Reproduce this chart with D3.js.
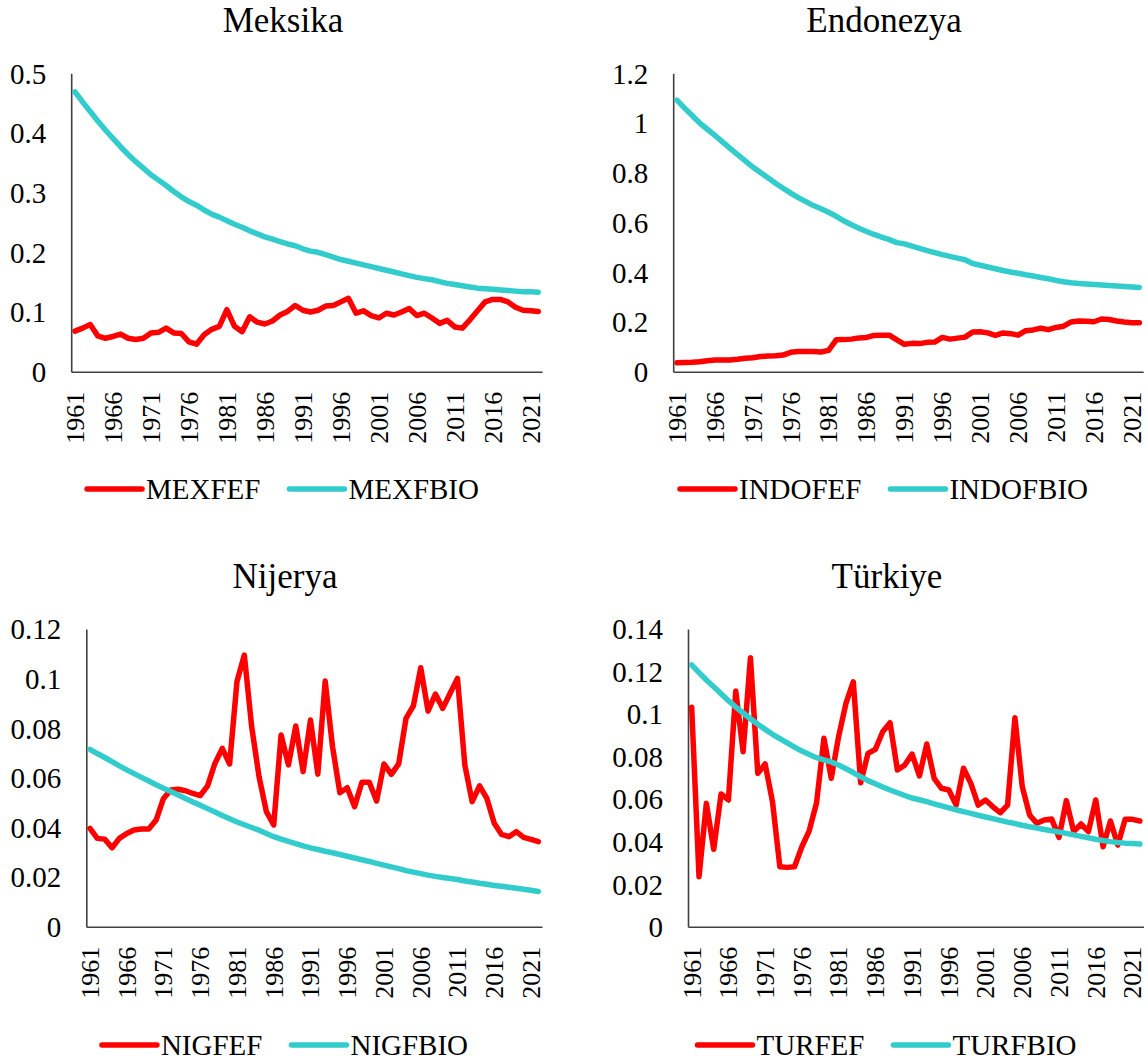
<!DOCTYPE html>
<html>
<head>
<meta charset="utf-8">
<script src="https://cdn.jsdelivr.net/npm/d3@7"></script>
<style>
  html, body { margin: 0; padding: 0; background: #fff; }
  svg text { font-family: "Liberation Serif", "Times New Roman", serif; fill: #000; }
</style>
</head>
<body>
<svg id="chart" width="1148" height="1064"></svg>
<script>
const years = [1961,1962,1963,1964,1965,1966,1967,1968,1969,1970,1971,1972,1973,1974,1975,1976,1977,1978,1979,1980,
  1981,1982,1983,1984,1985,1986,1987,1988,1989,1990,1991,1992,1993,1994,1995,1996,1997,1998,1999,2000,
  2001,2002,2003,2004,2005,2006,2007,2008,2009,2010,2011,2012,2013,2014,2015,2016,2017,2018,2019,2020,2021,2022];
const yearTicks = [1961,1966,1971,1976,1981,1986,1991,1996,2001,2006,2011,2016,2021];

const MEXFEF = [0.068,0.073,0.079,0.060,0.056,0.059,0.063,0.056,0.054,0.056,0.065,0.066,0.073,0.065,0.064,0.050,0.046,0.062,0.071,0.076,
  0.104,0.076,0.067,0.092,0.083,0.080,0.085,0.095,0.101,0.111,0.103,0.100,0.103,0.110,0.111,0.117,0.123,0.098,0.102,0.094,
  0.090,0.098,0.095,0.100,0.106,0.094,0.098,0.090,0.081,0.086,0.075,0.073,0.087,0.102,0.117,0.121,0.121,0.117,0.108,0.103,0.102,0.101];
const MEXFBIO = [0.469,0.452,0.436,0.420,0.405,0.391,0.377,0.364,0.352,0.341,0.330,0.321,0.312,0.302,0.293,0.285,0.279,0.271,0.264,0.259,
  0.253,0.247,0.242,0.236,0.231,0.226,0.222,0.218,0.214,0.211,0.206,0.202,0.200,0.196,0.192,0.188,0.185,0.182,0.179,0.176,
  0.173,0.170,0.167,0.164,0.161,0.158,0.156,0.154,0.151,0.148,0.146,0.144,0.142,0.140,0.139,0.138,0.137,0.136,0.135,0.134,0.134,0.133];

const INDOFEF = [0.036,0.037,0.038,0.040,0.044,0.047,0.047,0.047,0.050,0.054,0.056,0.061,0.063,0.064,0.067,0.078,0.081,0.081,0.081,0.079,
  0.086,0.128,0.129,0.131,0.136,0.138,0.146,0.147,0.147,0.128,0.110,0.114,0.113,0.118,0.119,0.138,0.131,0.135,0.139,0.160,
  0.161,0.156,0.146,0.156,0.153,0.147,0.165,0.168,0.175,0.169,0.178,0.183,0.200,0.204,0.203,0.201,0.212,0.210,0.204,0.200,0.197,0.197];
const INDOFBIO = [1.092,1.060,1.030,1.000,0.975,0.950,0.924,0.898,0.873,0.848,0.823,0.801,0.780,0.758,0.738,0.718,0.700,0.684,0.668,0.655,
  0.641,0.625,0.607,0.591,0.577,0.564,0.552,0.541,0.531,0.519,0.514,0.505,0.496,0.487,0.479,0.471,0.464,0.457,0.450,0.435,
  0.428,0.421,0.414,0.407,0.401,0.396,0.390,0.385,0.379,0.374,0.367,0.362,0.358,0.355,0.353,0.351,0.349,0.347,0.345,0.343,0.341,0.339];

const NIGFEF = [0.0396,0.0356,0.0353,0.0318,0.0356,0.0376,0.0390,0.0394,0.0394,0.0430,0.0517,0.0551,0.0554,0.0548,0.0537,0.0528,0.0568,0.0658,0.0719,0.0656,
  0.0988,0.1095,0.0806,0.0605,0.0464,0.0410,0.0773,0.0652,0.0809,0.0625,0.0833,0.0615,0.0990,0.0726,0.0540,0.0560,0.0484,0.0582,0.0582,0.0507,
  0.0656,0.0614,0.0656,0.0840,0.0890,0.1044,0.0869,0.0938,0.0880,0.0941,0.1001,0.0652,0.0504,0.0568,0.0517,0.0417,0.0372,0.0363,0.0383,0.0360,0.0352,0.0343];
const NIGFBIO = [0.0715,0.0698,0.0682,0.0665,0.0648,0.0632,0.0617,0.0602,0.0587,0.0572,0.0558,0.0545,0.0531,0.0517,0.0503,0.0490,0.0476,0.0462,0.0448,0.0435,
  0.0422,0.0411,0.0400,0.0389,0.0376,0.0363,0.0353,0.0344,0.0335,0.0326,0.0318,0.0311,0.0304,0.0298,0.0291,0.0284,0.0277,0.0270,0.0263,0.0255,
  0.0248,0.0241,0.0234,0.0226,0.0220,0.0214,0.0208,0.0203,0.0198,0.0194,0.0190,0.0184,0.0180,0.0175,0.0171,0.0166,0.0163,0.0159,0.0155,0.0151,0.0147,0.0142];

const TURFEF = [0.1032,0.0235,0.0580,0.0364,0.0624,0.0596,0.1108,0.0823,0.1265,0.0721,0.0765,0.0588,0.0282,0.0279,0.0282,0.0376,0.0451,0.0583,0.0886,0.0698,
  0.0894,0.1050,0.1152,0.0677,0.0815,0.0834,0.0917,0.0959,0.0737,0.0760,0.0812,0.0709,0.0859,0.0698,0.0651,0.0643,0.0572,0.0745,0.0674,0.0572,
  0.0596,0.0564,0.0536,0.0572,0.0983,0.0658,0.0525,0.0486,0.0502,0.0506,0.0420,0.0593,0.0447,0.0483,0.0447,0.0596,0.0376,0.0497,0.0384,0.0505,0.0505,0.0497];
const TURFBIO = [0.1231,0.1195,0.1160,0.1128,0.1095,0.1063,0.1033,0.1005,0.0978,0.0952,0.0928,0.0905,0.0885,0.0865,0.0845,0.0826,0.0810,0.0795,0.0784,0.0775,
  0.0760,0.0743,0.0725,0.0705,0.0687,0.0672,0.0657,0.0643,0.0630,0.0617,0.0605,0.0597,0.0588,0.0578,0.0568,0.0559,0.0550,0.0541,0.0533,0.0524,
  0.0516,0.0508,0.0500,0.0492,0.0485,0.0477,0.0470,0.0464,0.0457,0.0451,0.0445,0.0439,0.0432,0.0425,0.0418,0.0411,0.0405,0.0400,0.0396,0.0393,0.0391,0.0389];

const ticksMex = [0, 0.1, 0.2, 0.3, 0.4, 0.5];
const ticksIndo = [0, 0.2, 0.4, 0.6, 0.8, 1, 1.2];
const ticksNig = [0, 0.02, 0.04, 0.06, 0.08, 0.1, 0.12];
const ticksTur = [0, 0.02, 0.04, 0.06, 0.08, 0.1, 0.12, 0.14];

const titles = ["Meksika", "Endonezya", "Nijerya", "Türkiye"];
const seriesNames = [["MEXFEF","MEXFBIO"],["INDOFEF","INDOFBIO"],["NIGFEF","NIGFBIO"],["TURFEF","TURFBIO"]];

const RED = "#FF0000", TEAL = "#33CCCC", AXIS = "#404040";
const SERIF = '"Liberation Serif", "Times New Roman", serif';

const panels = [
  { title: titles[0], names: seriesNames[0], a: MEXFEF, b: MEXFBIO, ticks: ticksMex, ymax: 0.5,
    x0: 71.2, x1: 542.1, top: 73.3, bottom: 371.7, cx: 283, titleY: 32, legendY: 489 },
  { title: titles[1], names: seriesNames[1], a: INDOFEF, b: INDOFBIO, ticks: ticksIndo, ymax: 1.2,
    x0: 673.2, x1: 1143.2, top: 73.3, bottom: 371.7, cx: 884, titleY: 32, legendY: 489 },
  { title: titles[2], names: seriesNames[2], a: NIGFEF, b: NIGFBIO, ticks: ticksNig, ymax: 0.12,
    x0: 86.3, x1: 542, top: 629, bottom: 926.7, cx: 285, titleY: 588, legendY: 1045 },
  { title: titles[3], names: seriesNames[3], a: TURFEF, b: TURFBIO, ticks: ticksTur, ymax: 0.14,
    x0: 688, x1: 1143.5, top: 629, bottom: 926.7, cx: 887, titleY: 588, legendY: 1045 }
];

const svg = d3.select("#chart");

panels.forEach(p => {
  const g = svg.append("g").style("font-family", SERIF);
  const x = d3.scaleBand().domain(years).range([p.x0, p.x1]).padding(0);
  const y = d3.scaleLinear().domain([0, p.ymax]).range([p.bottom, p.top]);
  const xc = d => x(d) + x.bandwidth() / 2;

  // title
  g.append("text").attr("x", p.cx).attr("y", p.titleY).attr("text-anchor", "middle")
    .style("font-family", SERIF).style("font-size", "35px").text(p.title);

  // y axis
  const ya = g.append("g").attr("transform", `translate(${p.x0},0)`)
    .call(d3.axisLeft(y).tickValues(p.ticks).tickSize(0).tickSizeOuter(0).tickPadding(25)
      .tickFormat(d => String(+d.toFixed(4))));
  ya.attr("font-family", null).attr("font-size", null).style("font-family", SERIF);
  ya.select(".domain").attr("stroke", AXIS).attr("stroke-width", 1.6);
  ya.selectAll("text").style("font-family", SERIF).style("font-size", "29px").attr("dy", "0.34em");

  // x axis
  const xa = g.append("g").attr("transform", `translate(0,${p.bottom})`)
    .call(d3.axisBottom(x).tickValues(yearTicks).tickSize(0).tickSizeOuter(0).tickPadding(0));
  xa.attr("font-family", null).attr("font-size", null).style("font-family", SERIF);
  xa.select(".domain").attr("stroke", AXIS).attr("stroke-width", 1.6);
  xa.selectAll("text")
    .style("font-family", SERIF)
    .style("font-size", "26px")
    .attr("text-anchor", "end")
    .attr("transform", "rotate(-90)")
    .attr("x", -20).attr("y", 0).attr("dy", "0.34em");

  // lines
  const line = d3.line().x((d, i) => xc(years[i])).y(d => y(d));
  g.append("path").datum(p.a).attr("d", line).attr("fill", "none").attr("stroke", RED)
    .attr("stroke-width", 5.5).attr("stroke-linejoin", "round").attr("stroke-linecap", "round");
  g.append("path").datum(p.b).attr("d", line).attr("fill", "none").attr("stroke", TEAL)
    .attr("stroke-width", 5.5).attr("stroke-linejoin", "round").attr("stroke-linecap", "round");

  // legend
  const lg = g.append("g");
  const items = [{ name: p.names[0], color: RED }, { name: p.names[1], color: TEAL }];
  let cursor = 0;
  items.forEach((it, k) => {
    const ig = lg.append("g");
    ig.append("line").attr("x1", 0).attr("x2", 55).attr("y1", 0).attr("y2", 0)
      .attr("stroke", it.color).attr("stroke-width", 5.5).attr("stroke-linecap", "round");
    const t = ig.append("text").attr("x", 59).attr("y", 0).attr("dy", "0.33em")
      .style("font-family", SERIF).style("font-size", "29px").text(it.name);
    const w = 59 + t.node().getComputedTextLength();
    ig.attr("transform", `translate(${cursor},0)`);
    cursor += w + (k === 0 ? 29 : 0);
  });
  lg.attr("transform", `translate(${p.cx - cursor / 2},${p.legendY})`);
});
</script>
</body>
</html>
